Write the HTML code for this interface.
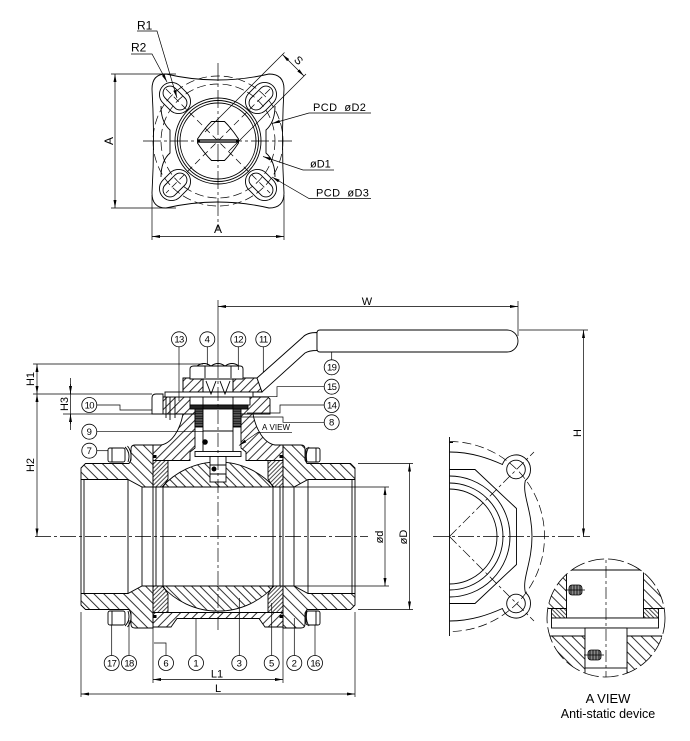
<!DOCTYPE html>
<html><head><meta charset="utf-8"><style>
html,body{margin:0;padding:0;background:#fff;}
svg{display:block;}
text{font-family:"Liberation Sans",sans-serif;fill:#000;stroke:none;}
</style></head><body>
<svg width="690" height="741" viewBox="0 0 690 741" xmlns="http://www.w3.org/2000/svg">
<defs>
<pattern id="hb" patternUnits="userSpaceOnUse" width="7" height="7" patternTransform="rotate(-45)"><line x1="3.5" y1="0" x2="3.5" y2="7" stroke="#000" stroke-width="0.8"/></pattern>
<pattern id="hf" patternUnits="userSpaceOnUse" width="6" height="6" patternTransform="rotate(45)"><line x1="3" y1="0" x2="3" y2="6" stroke="#000" stroke-width="0.8"/></pattern>
<pattern id="hball" patternUnits="userSpaceOnUse" width="6" height="6" patternTransform="rotate(-45)"><line x1="3" y1="0" x2="3" y2="6" stroke="#000" stroke-width="0.8"/></pattern>
<pattern id="hs" patternUnits="userSpaceOnUse" width="3" height="3" patternTransform="rotate(45)"><line x1="1.5" y1="0" x2="1.5" y2="3" stroke="#000" stroke-width="0.7"/></pattern>
<pattern id="hsb" patternUnits="userSpaceOnUse" width="3" height="3" patternTransform="rotate(-45)"><line x1="1.5" y1="0" x2="1.5" y2="3" stroke="#000" stroke-width="0.7"/></pattern>
<pattern id="hx" patternUnits="userSpaceOnUse" width="2.5" height="2.5"><rect width="2.5" height="2.5" fill="#555"/><line x1="0" y1="1.2" x2="2.5" y2="1.2" stroke="#000" stroke-width="0.6"/></pattern>
<marker id="ar" viewBox="0 0 8 4" refX="8" refY="2" markerWidth="8" markerHeight="4" orient="auto-start-reverse" markerUnits="userSpaceOnUse"><path d="M0,0.5 L8,2 L0,3.5 Z" fill="#000"/></marker>
<clipPath id="cv"><circle cx="606" cy="618" r="59"/></clipPath>
</defs>

<!-- ================= TOP VIEW ================= -->
<g fill="none" stroke="#000" stroke-width="0.9">
<path d="M166,74 Q217.5,86 269,74 Q284,74 284,89 Q281,141 284,193 Q284,208 269,208 Q217.5,196 166,208 Q152,208 152,193 Q155,141 152,89 Q152,74 166,74 Z"/>
<g transform="translate(175,98) rotate(45)"><rect x="-17" y="-12" width="34" height="24" rx="12"/><rect x="-14" y="-7" width="28" height="14" rx="7"/></g>
<g transform="translate(261,98) rotate(-45)"><rect x="-17" y="-12" width="34" height="24" rx="12"/><rect x="-14" y="-7" width="28" height="14" rx="7"/></g>
<g transform="translate(175,185) rotate(-45)"><rect x="-17" y="-12" width="34" height="24" rx="12"/><rect x="-14" y="-7" width="28" height="14" rx="7"/></g>
<g transform="translate(261,185) rotate(45)"><rect x="-17" y="-12" width="34" height="24" rx="12"/><rect x="-14" y="-7" width="28" height="14" rx="7"/></g>
<path d="M161,106 Q161,122 170,130 L170,153 Q161,161 161,177"/>
<path d="M275,106 Q275,122 266,130 L266,153 Q275,161 275,177"/>
<circle cx="218" cy="141" r="43"/>
<circle cx="218" cy="141" r="40.5"/>
<circle cx="218" cy="141" r="38"/>
<path d="M211.5,121.5 L224.5,121.5 Q232,129 238.5,139 L238.5,143 Q232,153 224.5,160.5 L211.5,160.5 Q204,153 197.5,143 L197.5,139 Q204,129 211.5,121.5 Z"/>
<circle cx="218" cy="141" r="57" stroke-width="0.7" stroke-dasharray="9,4"/>
<circle cx="218" cy="141" r="65" stroke-width="0.7" stroke-dasharray="9,4"/>
<path d="M143,141 H292 M218,63 V230" stroke-width="0.7" stroke-dasharray="18,3,3,3"/>
<path d="M166,89 L270,193 M270,89 L166,193" stroke-width="0.7" stroke-dasharray="7,4"/>
<!-- S -->
<path d="M205,132 L284.5,52.5 M229,151 L306,74" stroke-width="0.7"/>
<path d="M282.5,54.5 L304,76" stroke-width="0.7" marker-start="url(#ar)" marker-end="url(#ar)"/>
<!-- A dims -->
<path d="M115,74 V208" stroke-width="0.7" marker-start="url(#ar)" marker-end="url(#ar)"/>
<path d="M111,74 H176 M111,208 H176" stroke-width="0.7"/>
<path d="M152,236.5 H284" stroke-width="0.7" marker-start="url(#ar)" marker-end="url(#ar)"/>
<path d="M152,195 V240 M284,195 V240" stroke-width="0.7"/>
<!-- R1 R2 -->
<path d="M137,31 H157 L177,98" stroke-width="0.7" marker-end="url(#ar)"/>
<path d="M131,54 H152 L167,82" stroke-width="0.7" marker-end="url(#ar)"/>
<!-- PCD leaders -->
<path d="M371,113 H309 L272,123.5" stroke-width="0.7" marker-end="url(#ar)"/>
<path d="M334,170 H303 L263,156.5" stroke-width="0.7" marker-end="url(#ar)"/>
<path d="M371,198.5 H309 L272,177" stroke-width="0.7" marker-end="url(#ar)"/>
</g>
<rect x="198" y="139.3" width="40" height="3.4" fill="#000"/>
<line x1="200" y1="141" x2="236" y2="141" stroke="#fff" stroke-width="0.8"/>
<text x="137" y="29.5" font-size="12">R1</text>
<text x="131" y="51.5" font-size="12">R2</text>
<text transform="translate(296,63) rotate(45)" font-size="11" text-anchor="middle">S</text>
<text transform="translate(113,141) rotate(-90)" font-size="12" text-anchor="middle">A</text>
<text x="218" y="233" font-size="12" text-anchor="middle">A</text>
<text x="313" y="111" font-size="11" letter-spacing="0.4">PCD&#160;&#160;øD2</text>
<text x="310" y="167.5" font-size="11">øD1</text>
<text x="316" y="196.5" font-size="11" letter-spacing="0.4">PCD&#160;&#160;øD3</text>

<!-- ================= MAIN SECTION ================= -->
<g stroke="#000" stroke-width="0.9">
<!-- end caps -->
<path fill="url(#hb)" d="M81,468 L85.5,463.5 L129,463.5 L131,460 L131,449 Q131,445 135,445 L153,445 L153,487 L142,487 L128,479.5 L81,479.5 Z"/>
<path fill="url(#hb)" d="M81,605 L85.5,609.5 L129,609.5 L131,613 L131,624 Q131,628 135,628 L153,628 L153,586 L142,586 L128,593.5 L81,593.5 Z"/>
<path fill="url(#hb)" d="M355,468 L350.5,463.5 L307,463.5 L305,460 L305,449 Q305,445 301,445 L283,445 L283,487 L294,487 L308,479.5 L355,479.5 Z"/>
<path fill="url(#hb)" d="M355,605 L350.5,609.5 L307,609.5 L305,613 L305,624 Q305,628 301,628 L283,628 L283,586 L294,586 L308,593.5 L355,593.5 Z"/>
<!-- body -->
<path fill="url(#hf)" d="M153,445 L161,445 C172,443 180,430 183,414 L195,414 L195,448 L190,452 L190,460.5 L153,460.5 Z"/>
<path fill="url(#hf)" d="M283,445 L275,445 C264,443 256,430 253,414 L241,414 L241,448 L246,452 L246,460.5 L283,460.5 Z"/>
<path fill="url(#hf)" d="M153,612.5 L283,612.5 L283,627 L265,627 L259,618.5 L177,618.5 L171,627 L153,627 Z"/>
<path fill="url(#hf)" d="M163,397 L268,397 L270,399 L270,414 L163,414 Z"/>
<!-- ball -->
<path fill="url(#hball)" d="M162,487 A75,75 0 0 1 274,487 Z"/>
<path fill="url(#hball)" d="M162,586 A75,75 0 0 0 274,586 Z"/>
<!-- seats -->
<path fill="url(#hs)" d="M153,460.5 L168,460.5 L168,479 L163,487 L153,487 Z"/>
<path fill="url(#hs)" d="M283,460.5 L268,460.5 L268,479 L273,487 L283,487 Z"/>
<path fill="url(#hs)" d="M153,612.5 L168,612.5 L168,594 L163,586 L153,586 Z"/>
<path fill="url(#hs)" d="M283,612.5 L268,612.5 L268,594 L273,586 L283,586 Z"/>
<!-- bore lines -->
<path fill="none" d="M81,479.5 V593.5 M84,479.5 V593.5 M128,479.5 V593.5 M142,487 V586 M153,487 V586 M156,487 V586 M163,487 V586 M355,479.5 V593.5 M352,479.5 V593.5 M308,479.5 V593.5 M294,487 V586 M283,487 V586 M280,487 V586 M273,487 V586 M142,487 H294 M142,586 H294"/>
<!-- nuts & washers -->
<rect x="108" y="448" width="17" height="14" rx="2" fill="#fff"/>
<rect x="108" y="611" width="17" height="14" rx="2" fill="#fff"/>
<rect x="306" y="448" width="14" height="14" rx="2" fill="#fff"/>
<rect x="306" y="611" width="14" height="14" rx="2" fill="#fff"/>
<path fill="none" d="M112,448 V462 M112,611 V625 M316,448 V462 M316,611 V625"/>
<path fill="none" d="M125,447 Q131,453 128,462 M127.5,446 Q133,453 130,462 M125,626 Q131,620 128,611 M127.5,627 Q133,620 130,611"/>
<path fill="none" d="M309,447 Q305,453 307,462 M309,626 Q305,620 307,611"/>
</g>
<rect x="153.5" y="455" width="3" height="3" fill="#000"/>
<rect x="279.5" y="455" width="3" height="3" fill="#000"/>
<rect x="153.5" y="615" width="3" height="3" fill="#000"/>
<rect x="279.5" y="615" width="3" height="3" fill="#000"/>

<!-- neck / stem assembly -->
<g stroke="#000" stroke-width="0.9">
<path fill="#fff" d="M152,414 L152,398 Q152,394 156,394 L163,394 L163,414 Z"/>
<path fill="none" d="M166,397 V418 M170,397 V420 M175,397 V418"/>
<rect x="195" y="409" width="8" height="18" fill="url(#hx)"/>
<rect x="233" y="409" width="8" height="18" fill="url(#hx)"/>
<rect x="203" y="378" width="30" height="74" fill="#fff"/>
<path fill="url(#hf)" d="M183,378 L203,378 L203,392 L183,392 Z"/>
<path fill="url(#hf)" d="M233,378 L257,378 L262,392 L233,392 Z"/>
<path fill="#fff" d="M257,378 L303,337 Q307,332.5 317,332.5 L317,350.5 Q309,350.5 305,353 L262,392 Z"/>
<path fill="none" d="M183,378 H257 M183,392 H262 M183,378 V392"/>
<path fill="#fff" d="M320,330 L507,330 A11,11 0 0 1 507,352 L320,352 Q317,352 317,349 L317,333 Q317,330 320,330 Z"/>
<rect x="165" y="392" width="88" height="5" fill="#fff"/>
<rect x="190" y="397" width="60" height="8" fill="#fff"/>
<rect x="190" y="405" width="58" height="4" fill="#222"/>
<path fill="none" d="M203,397 V409 M233,397 V409"/>
<path fill="none" d="M206,381 L211,394 L216,381 M220,381 L225,394 L230,381 M203,431 H233"/>
<path fill="#fff" d="M190,379 L190,369 Q190,366 194,366 L240,366 Q243,366 243,369 L243,379 Z"/>
<path fill="none" d="M197,366 Q204,361 211,366 M211,366 Q218,361 225,366 M225,366 Q232,361 239,366 M205,366 V378 M231,366 V378"/>
<rect x="195" y="451.5" width="46" height="5" fill="#fff"/>
<rect x="210" y="456.5" width="16" height="25.5" fill="#fff"/>
<path fill="none" d="M210,465 H226 M210,474 H226"/>
</g>
<circle cx="205" cy="442" r="2.8" fill="#000"/>
<circle cx="214" cy="469" r="2.5" fill="#000"/>

<!-- centerlines main -->
<g fill="none" stroke="#000" stroke-width="0.7">
<path d="M35,536.5 H368" stroke-dasharray="16,3,3,3"/>
<path d="M218,364 V630" stroke-dasharray="14,3,3,3"/>
<path d="M218,300 V364"/>
<!-- W -->
<path d="M218,306.5 H518" marker-start="url(#ar)" marker-end="url(#ar)"/>
<path d="M518,301 V336"/>
<!-- H1 H2 H3 -->
<path d="M33,364 H203 M33,394 H152 M63,414 H152"/>
<path d="M37,364 V394" marker-start="url(#ar)" marker-end="url(#ar)"/>
<path d="M37,394 V536.5" marker-start="url(#ar)" marker-end="url(#ar)"/>
<path d="M70.5,378 V430"/>
<path d="M70.5,384 V394" marker-end="url(#ar)"/>
<path d="M70.5,424 V414" marker-end="url(#ar)"/>
<!-- d, D -->
<path d="M294,487 H389 M294,586 H389 M358,463.5 H413 M358,609.5 H413"/>
<path d="M385,487 V586" marker-start="url(#ar)" marker-end="url(#ar)"/>
<path d="M409.5,463.5 V609.5" marker-start="url(#ar)" marker-end="url(#ar)"/>
<!-- L1 L -->
<path d="M153,627 V683 M283,627 V683 M81,612 V697 M355,612 V697"/>
<path d="M153,679.5 H283" marker-start="url(#ar)" marker-end="url(#ar)"/>
<path d="M81,694 H355" marker-start="url(#ar)" marker-end="url(#ar)"/>
<!-- leaders -->
<path d="M179,347 V401 M207.3,347 V365 M238.3,347 V370 M263.3,347 V372"/>
<path d="M331.7,352 V360"/>
<path d="M324,386.7 H277 V396.7 H253"/>
<path d="M324,405 H280 V413 H247"/>
<path d="M324,422.3 H283 V417 H241"/>
<path d="M97,405 H120 V410 H152"/>
<path d="M97,431.7 H203"/>
<path d="M97,450.7 H108"/>
<path d="M111.7,655.5 V625 M129,655.5 V620 M166,655.5 V643 H154 M196,655.5 V618.5 M239.3,655.5 V598 M271.7,655.5 V603 M294.3,655.5 V618 M315,655.5 V625"/>
<path d="M292,432.3 H258 L239,445.5" marker-end="url(#ar)"/>
</g>

<!-- balloons -->
<g fill="#fff" stroke="#000" stroke-width="0.8">
<circle cx="179" cy="339.3" r="7.5"/><circle cx="207.3" cy="339.3" r="7.5"/><circle cx="238.3" cy="339.3" r="7.5"/><circle cx="263.3" cy="339.3" r="7.5"/>
<circle cx="331.7" cy="367.3" r="7.5"/><circle cx="331.7" cy="386.7" r="7.5"/><circle cx="331.7" cy="405" r="7.5"/><circle cx="331.7" cy="422.3" r="7.5"/>
<circle cx="89.3" cy="405" r="7.5"/><circle cx="89.3" cy="431.7" r="7.5"/><circle cx="89.3" cy="450.7" r="7.5"/>
<circle cx="111.7" cy="663" r="7.5"/><circle cx="129" cy="663" r="7.5"/><circle cx="166" cy="663" r="7.5"/><circle cx="196" cy="663" r="7.5"/><circle cx="239.3" cy="663" r="7.5"/><circle cx="271.7" cy="663" r="7.5"/><circle cx="294.3" cy="663" r="7.5"/><circle cx="315" cy="663" r="7.5"/>
</g>
<g font-size="9.5" text-anchor="middle">
<text x="179" y="342.7" letter-spacing="-0.6">13</text><text x="207.3" y="342.7">4</text><text x="238.3" y="342.7" letter-spacing="-0.6">12</text><text x="263.3" y="342.7" letter-spacing="-0.6">11</text>
<text x="331.7" y="370.7" letter-spacing="-0.6">19</text><text x="331.7" y="390.1" letter-spacing="-0.6">15</text><text x="331.7" y="408.4" letter-spacing="-0.6">14</text><text x="331.7" y="425.7">8</text>
<text x="89.3" y="408.4" letter-spacing="-0.6">10</text><text x="89.3" y="435.1">9</text><text x="89.3" y="454.1">7</text>
<text x="111.7" y="666.4" letter-spacing="-0.6">17</text><text x="129" y="666.4" letter-spacing="-0.6">18</text><text x="166" y="666.4">6</text><text x="196" y="666.4">1</text><text x="239.3" y="666.4">3</text><text x="271.7" y="666.4">5</text><text x="294.3" y="666.4">2</text><text x="315" y="666.4" letter-spacing="-0.6">16</text>
</g>

<!-- main labels -->
<text x="367" y="305" font-size="11" text-anchor="middle">W</text>
<text transform="translate(34,379) rotate(-90)" font-size="11" text-anchor="middle">H1</text>
<text transform="translate(34,465) rotate(-90)" font-size="11" text-anchor="middle">H2</text>
<text transform="translate(68,404) rotate(-90)" font-size="11" text-anchor="middle">H3</text>
<text transform="translate(383,537) rotate(-90)" font-size="11" text-anchor="middle">ød</text>
<text transform="translate(407,537) rotate(-90)" font-size="11" text-anchor="middle">øD</text>
<text x="217" y="677.5" font-size="11" text-anchor="middle">L1</text>
<text x="218" y="692" font-size="11" text-anchor="middle">L</text>
<text x="262" y="430" font-size="8">A&#160;VIEW</text>

<!-- ================= END VIEW ================= -->
<g fill="none" stroke="#000" stroke-width="0.9">
<path d="M449.5,437 V636 M449.5,442.5 H453"/>
<path d="M449.5,452 C472,452 490,459 502.4,464.5 A14.5,14.5 0 1 1 525.3,480.6 C522,495 532,510 532,536.5 C532,563 522,578 525.3,592.4 A14.5,14.5 0 1 1 502.4,608.5 C490,614 472,621 449.5,621"/>
<path d="M449.5,469.5 L475,469.5 L516.5,508.5 L516.5,564.5 L475,603.5 L449.5,603.5"/>
<path d="M449.5,489 A47.5,47.5 0 0 1 449.5,584"/>
<path d="M449.5,483 A53.5,53.5 0 0 1 449.5,590"/>
<path d="M449.5,476 A60.5,60.5 0 0 1 449.5,597"/>
<circle cx="516" cy="469.5" r="9.3"/>
<circle cx="516" cy="603.5" r="9.3"/>
<path d="M449.5,441.5 A95,95 0 0 1 449.5,631.5" stroke-width="0.7" stroke-dasharray="9,4"/>
<path d="M449.5,536.5 L534,452 M449.5,536.5 L534,621" stroke-width="0.7" stroke-dasharray="10,3,3,3"/>
<path d="M433,536.5 H590" stroke-width="0.7" stroke-dasharray="16,3,3,3"/>
<path d="M519,330 H588" stroke-width="0.7"/>
<path d="M583.5,330 V536.5" stroke-width="0.7" marker-start="url(#ar)" marker-end="url(#ar)"/>
</g>
<text transform="translate(581,433) rotate(-90)" font-size="11" text-anchor="middle">H</text>

<!-- ================= A VIEW DETAIL ================= -->
<g clip-path="url(#cv)" stroke="#000" stroke-width="0.9">
<path fill="url(#hb)" d="M540,572 L566.5,572 L566.5,608.5 L540,608.5 Z"/>
<path fill="url(#hb)" d="M643.5,572 L672,572 L672,608.5 L643.5,608.5 Z"/>
<path fill="url(#hb)" d="M540,636 L585,636 L585,680 L540,680 Z"/>
<path fill="url(#hb)" d="M627,636 L672,636 L672,680 L627,680 Z"/>
<rect x="551.5" y="608.5" width="15" height="9.5" fill="url(#hsb)"/>
<rect x="643.5" y="608.5" width="15" height="9.5" fill="url(#hsb)"/>
<rect x="566.5" y="570" width="77" height="48" fill="#fff"/>
<path fill="none" d="M566.5,570 H670"/>
<rect x="551.5" y="618" width="107" height="10" fill="#fff"/>
<rect x="585" y="628" width="42" height="40" fill="#fff"/>
<path fill="none" d="M606,545 V685" stroke-width="0.7" stroke-dasharray="12,3,3,3"/>
</g>
<circle cx="606" cy="618" r="59" fill="none" stroke="#000" stroke-width="0.8" stroke-dasharray="16,4"/>
<g stroke="#000" stroke-width="0.8">
<rect x="569" y="585" width="13" height="10" rx="3" fill="#888"/>
<path d="M571,585 V595 M574,585 V595 M577,585 V595 M580,585 V595 M565,590 H585" fill="none"/>
<rect x="588" y="650" width="13" height="10" rx="3" fill="#888"/>
<path d="M590,650 V660 M593,650 V660 M596,650 V660 M599,650 V660 M584,655 H604" fill="none"/>
</g>
<text x="608" y="703" font-size="13" text-anchor="middle">A VIEW</text>
<text x="608" y="718" font-size="12.5" text-anchor="middle">Anti-static device</text>
</svg>
</body></html>
